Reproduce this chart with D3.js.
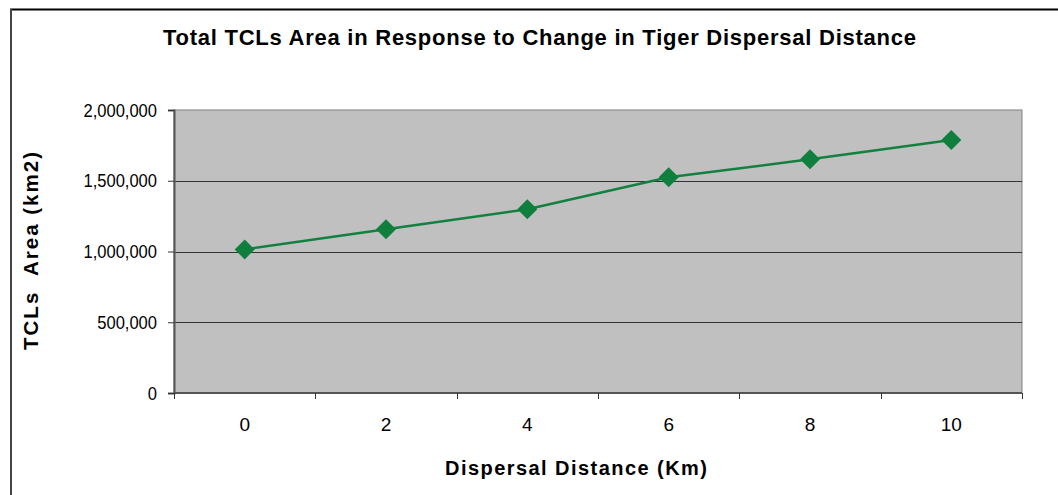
<!DOCTYPE html>
<html>
<head>
<meta charset="utf-8">
<script src="https://cdn.jsdelivr.net/npm/d3@7"></script>
<style>
  html, body { margin: 0; padding: 0; background: #fff; }
  svg { display: block; font-family: "Liberation Sans", Arial, sans-serif; }
</style>
</head>
<body>
<svg id="chart" width="1058" height="495"></svg>
<script>
// Dispersal distance (km) and the total TCL area obtained for each
const distances = ["0", "2", "4", "6", "8", "10"];
const areas = [1015000, 1157000, 1298000, 1524000, 1652000, 1788000];
const yTicks = [0, 500000, 1000000, 1500000, 2000000];

const svg = d3.select("#chart");
const W = 1058, H = 495;
const plot = { left: 174, top: 110, right: 1022, bottom: 393 };
const tickFont = 19;

// Outer frame (open on the right and bottom edges of the page)
svg.append("line")
  .attr("x1", 10).attr("x2", W + 5).attr("y1", 9.5).attr("y2", 9.5)
  .attr("stroke", "#000").attr("stroke-width", 2);
svg.append("line")
  .attr("x1", 11).attr("x2", 11).attr("y1", 9).attr("y2", H + 5)
  .attr("stroke", "#444").attr("stroke-width", 2);

const x = d3.scaleBand().domain(distances).range([plot.left, plot.right]);
const y = d3.scaleLinear().domain([0, 2000000]).range([plot.bottom, plot.top]);

// Plot area background
svg.append("rect")
  .attr("x", plot.left).attr("y", plot.top)
  .attr("width", plot.right - plot.left).attr("height", plot.bottom - plot.top)
  .attr("fill", "#c0c0c0")
  .attr("stroke", "#808080").attr("stroke-width", 1);

// Horizontal gridlines
svg.append("g")
  .selectAll("line")
  .data(yTicks.filter(d => d > 0 && d < 2000000))
  .join("line")
  .attr("x1", plot.left).attr("x2", plot.right)
  .attr("y1", d => Math.round(y(d)) + 0.5).attr("y2", d => Math.round(y(d)) + 0.5)
  .attr("stroke", "#333").attr("stroke-width", 1);

// Y axis
const fmt = d3.format(",");
const yAxis = svg.append("g")
  .attr("transform", `translate(${plot.left},0)`)
  .call(d3.axisLeft(y).tickValues(yTicks).tickFormat(fmt).tickSize(6).tickPadding(11));
yAxis.select(".domain").attr("stroke", "#555").attr("stroke-width", 2);
yAxis.selectAll(".tick line").attr("stroke", "#333");
yAxis.selectAll("text")
  .attr("font-size", tickFont).attr("fill", "#000")
  .attr("font-family", "Liberation Sans, Arial, sans-serif")
  .each(function () {
    // slightly narrowed value labels
    const len = this.getComputedTextLength();
    d3.select(this).attr("textLength", len * 0.87).attr("lengthAdjust", "spacingAndGlyphs");
  });

// X axis: labels centred in each category, ticks on category boundaries
const xAxisG = svg.append("g").attr("transform", `translate(0,${plot.bottom})`);
xAxisG.append("line")
  .attr("x1", plot.left).attr("x2", plot.right)
  .attr("y1", 0).attr("y2", 0)
  .attr("stroke", "#555").attr("stroke-width", 2);
const boundaries = distances.map(d => x(d)).concat([x(distances[distances.length - 1]) + x.bandwidth()]);
xAxisG.selectAll("line.tick")
  .data(boundaries)
  .join("line")
  .attr("class", "tick")
  .attr("x1", d => Math.round(d) + 0.5).attr("x2", d => Math.round(d) + 0.5)
  .attr("y1", 0).attr("y2", 6)
  .attr("stroke", "#333");
xAxisG.selectAll("text")
  .data(distances)
  .join("text")
  .attr("x", d => x(d) + x.bandwidth() / 2)
  .attr("y", 38)
  .attr("text-anchor", "middle")
  .attr("font-size", tickFont)
  .attr("fill", "#000")
  .text(d => d);

// Series line
const cx = d => x(d) + x.bandwidth() / 2;
const line = d3.line().x((d, i) => cx(distances[i])).y(d => y(d));
svg.append("path")
  .datum(areas)
  .attr("d", line)
  .attr("fill", "none")
  .attr("stroke", "#138040")
  .attr("stroke-width", 2.5);

// Diamond markers
svg.append("g")
  .selectAll("path")
  .data(areas)
  .join("path")
  .attr("transform", (d, i) => `translate(${cx(distances[i])},${y(d)})`)
  .attr("d", "M0,-10 L10,0 L0,10 L-10,0 Z")
  .attr("fill", "#0f7f3e");

// Titles
svg.append("text")
  .attr("x", 539.5).attr("y", 45)
  .attr("text-anchor", "middle")
  .attr("font-size", 22).attr("font-weight", "bold")
  .attr("textLength", 753).attr("lengthAdjust", "spacing")
  .text("Total TCLs Area in Response to Change in Tiger Dispersal Distance");

svg.append("text")
  .attr("x", 576).attr("y", 475)
  .attr("text-anchor", "middle")
  .attr("font-size", 20).attr("font-weight", "bold")
  .attr("textLength", 262).attr("lengthAdjust", "spacing")
  .text("Dispersal Distance (Km)");

svg.append("text")
  .attr("transform", "translate(38,251) rotate(-90)")
  .attr("text-anchor", "middle")
  .attr("font-size", 20.5).attr("font-weight", "bold")
  .attr("textLength", 198).attr("lengthAdjust", "spacing")
  .style("white-space", "pre")
  .text("TCLs  Area (km2)");
</script>
</body>
</html>
